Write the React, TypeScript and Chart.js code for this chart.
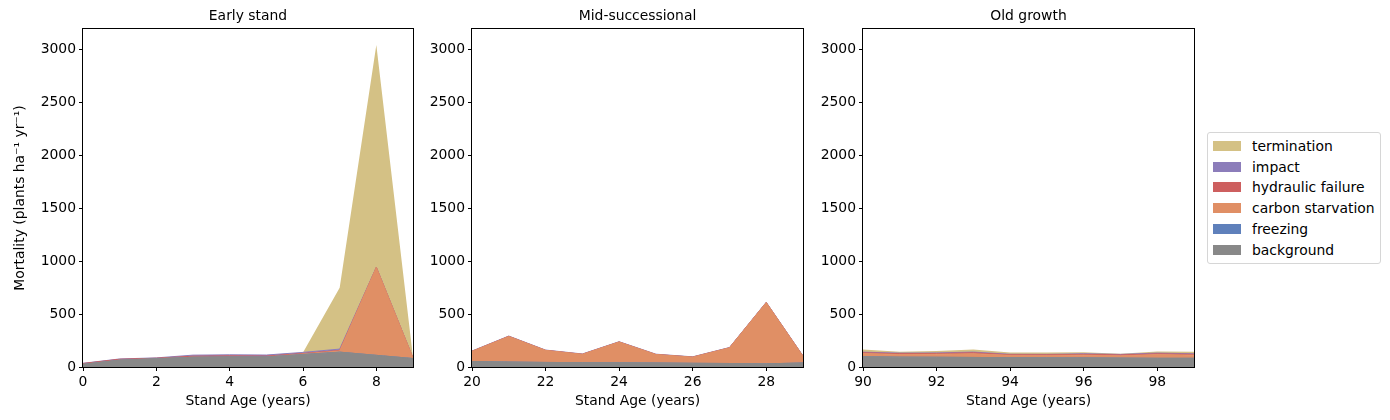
import React, { useEffect, useRef } from "react";
import { Chart, registerables } from "chart.js";

Chart.register(...registerables);

// Mortality causes, stacked bottom to top
const causes = ["background", "freezing", "carbon starvation", "hydraulic failure", "impact", "termination"];
const causeColors = ["#888888", "#5f80bb", "#e08f65", "#cd5f5f", "#8c7dba", "#d4c185"];

// Early stand (years 0-9)
const earlyYears = [0, 1, 2, 3, 4, 5, 6, 7, 8, 9];
const earlyBackground = [25, 65, 78, 92, 95, 95, 118, 140, 110, 80];
const earlyFreezing = [0, 0, 0, 0, 0, 0, 0, 0, 0, 0];
const earlyCarbon = [0, 0, 0, 0, 0, 0, 5, 12, 830, 5];
const earlyHydraulic = [8, 8, 5, 10, 10, 8, 5, 5, 0, 0];
const earlyImpact = [2, 3, 3, 10, 10, 10, 10, 12, 2, 0];
const earlyTermination = [0, 0, 0, 0, 0, 0, 0, 580, 2096, 5];

// Mid-successional (years 20-29)
const midYears = [20, 21, 22, 23, 24, 25, 26, 27, 28, 29];
const midBackground = [52, 47, 43, 41, 40, 38, 35, 33, 30, 38];
const midFreezing = [0, 0, 0, 0, 0, 0, 0, 0, 0, 0];
const midCarbon = [96, 242, 114, 79, 196, 80, 58, 148, 578, 64];
const midHydraulic = [0, 0, 0, 0, 0, 0, 0, 0, 0, 0];
const midImpact = [3, 3, 3, 3, 3, 3, 3, 3, 3, 3];
const midTermination = [0, 0, 0, 0, 0, 0, 3, 0, 0, 0];

// Old growth (years 90-99)
const oldYears = [90, 91, 92, 93, 94, 95, 96, 97, 98, 99];
const oldBackground = [97, 93, 92, 90, 88, 87, 86, 84, 82, 82];
const oldFreezing = [0, 0, 0, 0, 0, 0, 0, 0, 0, 0];
const oldCarbon = [30, 25, 28, 35, 22, 22, 26, 22, 35, 30];
const oldHydraulic = [8, 8, 8, 10, 6, 6, 8, 8, 8, 8];
const oldImpact = [5, 5, 5, 6, 4, 4, 5, 5, 6, 5];
const oldTermination = [25, 12, 18, 25, 18, 18, 15, 5, 15, 20];

const yMax = 3190;
const yTickValues = [0, 500, 1000, 1500, 2000, 2500, 3000];
const xTicksStep = 2;

const FONT_FAMILY = "'DejaVu Sans', sans-serif";
const FONT_SIZE = 13.9;

type PanelProps = {
  title: string;
  years: number[];
  series: number[][];
  left: number;
  width: number;
  yAxisWidth: number;
  yTitle?: string;
};

// Draws the frame around the plot area and the panel title
const framePlugin = {
  id: "frame",
  afterDraw(chart: any, _args: any, opts: any) {
    const { ctx, chartArea } = chart;
    const l = Math.round(chartArea.left) - 0.5;
    const t = Math.round(chartArea.top) - 0.5;
    const r = Math.round(chartArea.right) + 0.5;
    const b = Math.round(chartArea.bottom) + 0.5;
    ctx.save();
    ctx.strokeStyle = "#000";
    ctx.lineWidth = 1;
    ctx.strokeRect(l, t, r - l, b - t);
    ctx.fillStyle = "#000";
    ctx.font = `${FONT_SIZE}px ${FONT_FAMILY}`;
    ctx.textAlign = "center";
    ctx.textBaseline = "middle";
    ctx.fillText(opts.title, (chartArea.left + chartArea.right) / 2, 16);
    ctx.restore();
  },
};

function Panel({ title, years, series, left, width, yAxisWidth, yTitle }: PanelProps) {
  const ref = useRef<HTMLCanvasElement | null>(null);

  useEffect(() => {
    if (!ref.current) return;
    const font = { family: FONT_FAMILY, size: FONT_SIZE };
    const chart = new Chart(ref.current, {
      type: "line",
      data: {
        datasets: series.map((vals, i) => ({
          label: causes[i],
          data: years.map((x, j) => ({ x, y: vals[j] })),
          backgroundColor: causeColors[i],
          borderColor: causeColors[i],
          borderWidth: i === 5 ? 0 : 1,
          fill: i === 0 ? "origin" : "-1",
          pointRadius: 0,
          pointHoverRadius: 0,
          tension: 0,
        })),
      },
      options: {
        animation: false,
        responsive: false,
        maintainAspectRatio: false,
        layout: { padding: { top: 29, right: 3, bottom: 0, left: 0 } },
        plugins: {
          legend: { display: false },
          tooltip: { enabled: false },
          title: { display: false },
          frame: { title },
        } as any,
        scales: {
          x: {
            type: "linear",
            min: years[0],
            max: years[years.length - 1],
            ticks: {
              stepSize: xTicksStep,
              includeBounds: false,
              color: "#000",
              font,
              padding: 3,
              maxRotation: 0,
              callback: (v: any) => String(v),
            },
            grid: { display: true, drawOnChartArea: false, drawTicks: true, tickLength: 4, color: "#000" },
            border: { display: false },
            title: { display: true, text: "Stand Age (years)", color: "#000", font, padding: { top: 0, bottom: 10 } },
            afterFit: (s: any) => {
              s.height = 53;
            },
          },
          y: {
            type: "linear",
            stacked: true,
            min: 0,
            max: yMax,
            ticks: { color: "#000", font, padding: 3, callback: (v: any) => String(v) },
            afterBuildTicks: (s: any) => {
              s.ticks = yTickValues.map((value) => ({ value }));
            },
            grid: { display: true, drawOnChartArea: false, drawTicks: true, tickLength: 4, color: "#000" },
            border: { display: false },
            title: {
              display: !!yTitle,
              text: yTitle || "",
              color: "#000",
              font,
              padding: { top: 12, bottom: 0 },
            },
            afterFit: (s: any) => {
              s.width = yAxisWidth;
            },
          },
        },
      } as any,
      plugins: [framePlugin],
    });
    return () => chart.destroy();
  }, []);

  return (
    <canvas
      ref={ref}
      width={width}
      height={420}
      style={{ position: "absolute", left, top: 0, width, height: 420 }}
    />
  );
}

export default function App() {
  const legendOrder = [5, 4, 3, 2, 1, 0];
  return (
    <div style={{ position: "absolute", left: 0, top: 0, width: 1390, height: 420, background: "#fff" }}>
      <Panel
        title="Early stand"
        years={earlyYears}
        series={[earlyBackground, earlyFreezing, earlyCarbon, earlyHydraulic, earlyImpact, earlyTermination]}
        left={0}
        width={416}
        yAxisWidth={83}
        yTitle="Mortality (plants ha⁻¹ yr⁻¹)"
      />
      <Panel
        title="Mid-successional"
        years={midYears}
        series={[midBackground, midFreezing, midCarbon, midHydraulic, midImpact, midTermination]}
        left={416}
        width={390}
        yAxisWidth={56}
      />
      <Panel
        title="Old growth"
        years={oldYears}
        series={[oldBackground, oldFreezing, oldCarbon, oldHydraulic, oldImpact, oldTermination]}
        left={806}
        width={391}
        yAxisWidth={57}
      />
      <div
        style={{
          position: "absolute",
          left: 1207,
          top: 132,
          width: 172,
          height: 130,
          border: "1px solid #d6d6d6",
          borderRadius: 3,
          fontFamily: FONT_FAMILY,
          fontSize: FONT_SIZE,
          color: "#000",
        }}
      >
        {legendOrder.map((ci, k) => (
          <div key={causes[ci]} style={{ position: "absolute", left: 0, top: 13 + k * 20.7 - 10, height: 20, width: 172 }}>
            <div
              style={{
                position: "absolute",
                left: 5,
                top: 5,
                width: 28,
                height: 10,
                background: causeColors[ci],
              }}
            />
            <div style={{ position: "absolute", left: 44, top: 0, lineHeight: "20px", whiteSpace: "nowrap" }}>
              {causes[ci]}
            </div>
          </div>
        ))}
      </div>
    </div>
  );
}
